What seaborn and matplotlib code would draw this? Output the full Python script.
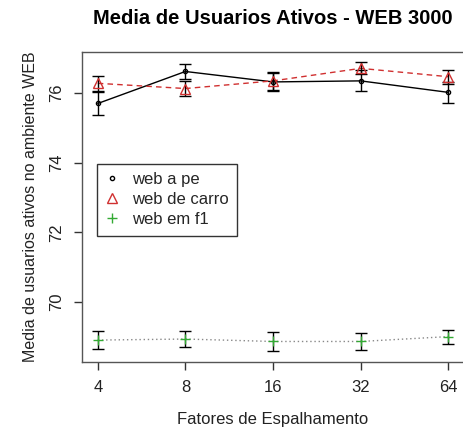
import matplotlib
matplotlib.use("Agg")
import matplotlib.pyplot as plt
import seaborn as sns
import numpy as np
import pandas as pd

fatores = ["4", "8", "16", "32", "64"]
ape = [75.70, 76.62, 76.32, 76.35, 76.02]
ape_err = [0.32, 0.22, 0.27, 0.30, 0.30]
carro = [76.28, 76.13, 76.35, 76.71, 76.47]
carro_err = [0.22, 0.22, 0.25, 0.17, 0.20]
f1 = [68.90, 68.93, 68.86, 68.86, 69.00]
f1_err = [0.25, 0.23, 0.28, 0.24, 0.20]

sns.set_theme(style="white")
plt.rcParams['font.family'] = ['Liberation Sans', 'DejaVu Sans']

fig = plt.figure(figsize=(4.63, 4.41), dpi=100)
ax = fig.add_axes([82/463, 1-362/441, (464-82)/463, (362-52)/441])

xpos = np.arange(len(fatores))
df = pd.DataFrame({"x": xpos, "ape": ape, "carro": carro, "f1": f1})

series = [
    ("ape", ape_err, "black", "-", "o", "web a pe", 3.0),
    ("carro", carro_err, "#d03030", (0, (4, 3)), "^", "web de carro", 7),
    ("f1", f1_err, "#33aa33", (0, (1, 2)), "+", "web em f1", 7),
]
handles = []
for col, err, c, ls, mk, lab, ms in series:
    lc = c if col != "f1" else "#888888"
    sns.lineplot(data=df, x="x", y=col, ax=ax, color=lc, linestyle=ls, linewidth=1.0,
                 legend=False)
    ax.errorbar(df["x"], df[col], yerr=err, fmt="none", ecolor="black",
                elinewidth=1.0, capsize=4.5, capthick=1.0, zorder=3)
    if mk == "+":
        h = ax.plot(df["x"], df[col], linestyle="none", marker=mk, markersize=ms,
                    color=c, markeredgewidth=1.0, zorder=4)[0]
    else:
        h = ax.plot(df["x"], df[col], linestyle="none", marker=mk, markersize=ms,
                    markerfacecolor="none", markeredgecolor=c, markeredgewidth=1.0,
                    zorder=4)[0]
    handles.append((h, lab))

ax.set_xlim(-0.18, 4.18)
ax.set_ylim(68.27, 77.18)
ax.set_xticks(xpos)
ax.set_xticklabels(fatores)
ax.set_yticks([70, 72, 74, 76])
ax.set_yticklabels(["70", "72", "74", "76"], rotation=90, va="center")
ax.tick_params(axis="both", direction="out", length=6, width=1, color="#333333",
               labelsize=12, labelcolor="#222222", bottom=True, left=True)
ax.tick_params(axis="x", pad=7)
ax.tick_params(axis="y", pad=7)
for s in ax.spines.values():
    s.set_visible(True)
    s.set_color("#555555")
    s.set_linewidth(1.0)

ax.set_xlabel("Fatores de Espalhamento", fontsize=12, color="#222222", labelpad=12)
ax.set_ylabel("Media de usuarios ativos no ambiente WEB", fontsize=11.5,
              color="#222222", labelpad=8)
fig.text(273/463, 1-18/441, "Media de Usuarios Ativos - WEB 3000", ha="center",
         va="center", fontsize=14.5, fontweight="bold", color="black")

leg = ax.legend([h for h, _ in handles], [l for _, l in handles],
                loc="upper left", bbox_to_anchor=((97-82)/(464-82), (362-164)/(362-52)),
                fontsize=12, frameon=True, fancybox=False, edgecolor="black",
                handlelength=0.8, handletextpad=0.8, borderpad=0.5,
                labelspacing=0.3, borderaxespad=0)
leg.get_frame().set_linewidth(1.0)

fig.savefig("out.png", dpi=100)
